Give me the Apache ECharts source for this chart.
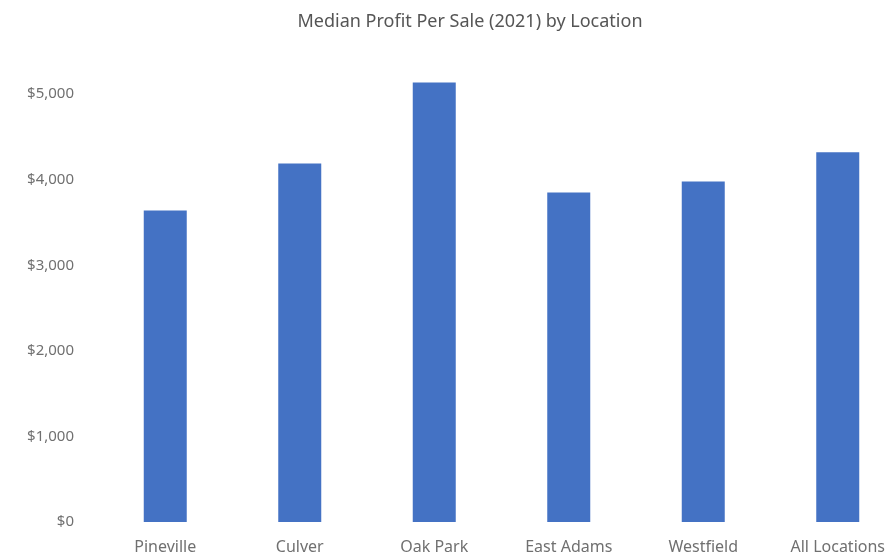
<!DOCTYPE html>
<html><head><meta charset="utf-8">
<script src="https://cdn.jsdelivr.net/npm/echarts@6/dist/echarts.min.js"></script>
<style>html,body{margin:0;padding:0;background:#fff}#c{width:886px;height:558px}</style>
</head><body><div id="c"></div>
<script>
const categories = ["Pineville", "Culver", "Oak Park", "East Adams", "Westfield", "All Locations"];
const medianProfit = [3640, 4190, 5135, 3850, 3980, 4320];
const yTicks = [0, 1000, 2000, 3000, 4000, 5000];
const titleText = "Median Profit Per Sale (2021) by Location";

const chart = echarts.init(document.getElementById('c'));
chart.setOption({
  animation: false,
  backgroundColor: '#ffffff',
  title: {
    text: titleText,
    left: 465, top: 8, textAlign: 'center',
    textStyle: {fontFamily: 'Noto Sans', fontSize: 18, fontWeight: 'normal', color: '#555555'}
  },
  grid: {left: 98, top: 77, right: -19, bottom: 36, outerBoundsMode: 'none', containLabel: false},
  xAxis: {
    type: 'category', data: categories,
    axisLine: {show: false}, axisTick: {show: false},
    axisLabel: {fontFamily: 'Noto Sans', fontSize: 16, color: '#707070', margin: 17}
  },
  yAxis: {
    type: 'value', min: 0, max: 5200, interval: 1000,
    splitLine: {show: false}, axisLine: {show: false}, axisTick: {show: false},
    axisLabel: {
      fontFamily: 'Noto Sans', fontSize: 15, color: '#707070', margin: 24,
      formatter: v => yTicks.includes(v) ? '$' + v.toLocaleString('en-US') : ''
    }
  },
  series: [{
    type: 'bar', data: medianProfit, barWidth: 43,
    itemStyle: {color: '#4472C4'}
  }]
});
</script></body></html>
